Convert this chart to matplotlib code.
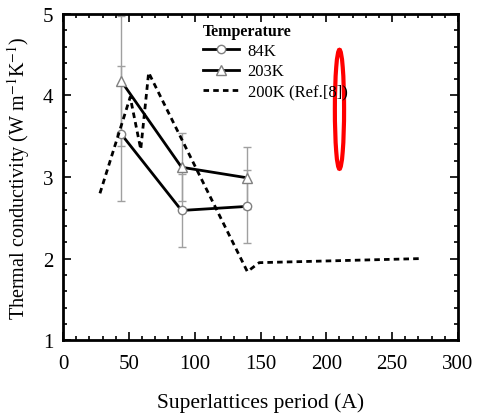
import matplotlib.pyplot as plt
from matplotlib.patches import Ellipse
from matplotlib.ticker import MultipleLocator

plt.rcParams['font.family'] = ['Liberation Serif', 'DejaVu Serif']
plt.rcParams['mathtext.fontset'] = 'stix'

# 84K
x84 = [44, 90, 140]
y84 = [3.53, 2.59, 2.64]
e84 = [0.83, 0.45, 0.45]

# 203K
x203 = [44, 90, 140]
y203 = [4.18, 3.12, 2.99]
e203 = [0.80, 0.42, 0.38]

# 200K (Ref.[8])
xref = [28, 51, 59, 65, 140, 149, 272]
yref = [2.80, 3.98, 3.34, 4.28, 1.84, 1.95, 2.00]

fig = plt.figure(figsize=(4.78, 4.14), dpi=100)
ax = fig.add_axes([0.132, 0.176, 0.826, 0.788])

ax.errorbar(x84, y84, yerr=e84, fmt='none', ecolor='#a0a0a0', elinewidth=1, capsize=3)
ax.errorbar(x203, y203, yerr=e203, fmt='none', ecolor='#a0a0a0', elinewidth=1, capsize=3)
ax.plot(x84, y84, 'k-', lw=2, marker='o', ms=6, mfc='white', mec='#808080', label='84K')
ax.plot(x203, y203, 'k-', lw=2, marker='^', ms=7, mfc='white', mec='#808080', label='203K')
ax.plot(xref, yref, 'k--', lw=2, dashes=(2, 1.5), label='200K (Ref.[8])')

ax.add_patch(Ellipse((210, 3.83), 7, 1.46, fill=False, ec='red', lw=3))

ax.set_xlim(0, 300)
ax.set_ylim(1, 5)
ax.xaxis.set_major_locator(MultipleLocator(50))
ax.xaxis.set_minor_locator(MultipleLocator(10))
ax.yaxis.set_major_locator(MultipleLocator(1))
ax.yaxis.set_minor_locator(MultipleLocator(0.2))
ax.tick_params(which='both', direction='in', top=True, right=True, width=1.2, labelsize=15)
ax.tick_params(which='major', length=6)
ax.tick_params(which='minor', length=3)
ax.tick_params(axis='x', pad=10)
ax.tick_params(axis='y', pad=7)
for s in ax.spines.values():
    s.set_linewidth(2)

ax.set_xlabel('Superlattices period (A)', fontsize=15.5, labelpad=14)
ax.set_ylabel('Thermal conductivity (W m$^{-1}$K$^{-1}$)', fontsize=14.5, labelpad=8)

leg = ax.legend(loc='upper left', bbox_to_anchor=(0.33, 1.0), frameon=False, fontsize=12,
                title='Temperature', title_fontsize=11.5, handlelength=2.2, handletextpad=0.5,
                borderaxespad=0.15, labelspacing=0.25, alignment='left')
leg.get_title().set_fontweight('bold')

fig.savefig('out.png', dpi=100)
